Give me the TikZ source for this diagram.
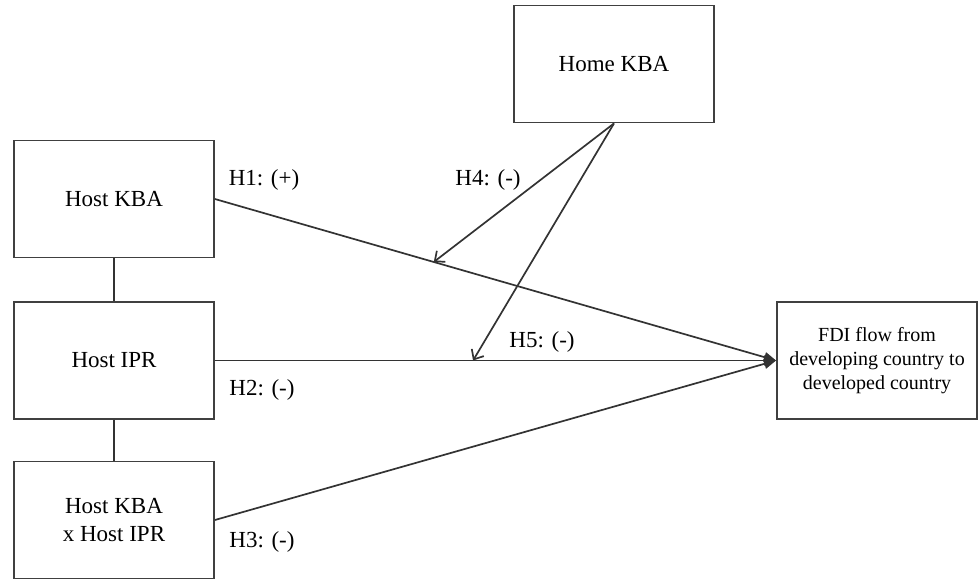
\documentclass[tikz,border=0pt]{standalone}
\usepackage{fontspec}
\setmainfont{Liberation Serif}
\usetikzlibrary{arrows.meta,calc}
\begin{document}
\begin{tikzpicture}[x=1pt,y=-1pt]
\tikzstyle{every node}+=[inner sep=0pt, font=\fontsize{23}{28}\selectfont]
\tikzstyle{box}=[draw=black!75, line width=1.8pt, minimum width=200pt, minimum height=117pt, align=center]
\tikzstyle{link}=[draw=black!80, line width=1.7pt]
\useasboundingbox (0,0) rectangle (979,581);
% boxes
\node [box] (home) at (614,64) {Home KBA};
\node [box] (hostkba) at (114,199) {Host KBA};
\node [box] (hostipr) at (114,360.5) {Host IPR};
\node [box] (inter) at (114,520) {Host KBA\\x Host IPR};
\node [box, minimum width=200pt, font=\fontsize{20}{24}\selectfont] (fdi) at (877,360.5) {FDI flow from\\developing country to\\developed country};
%\draw (hostkba) -- (hostipr);
\draw [link] (hostkba.south) -- (hostipr.north);
\draw [link] (hostipr.south) -- (inter.north);
% main effects
\draw [link, -{Triangle[length=12pt,width=10pt]}] (hostkba.east) -- (fdi.west);
\draw [link, -{Triangle[length=12pt,width=10pt]}] (hostipr.east) -- (fdi.west);
\draw [link, -{Triangle[length=12pt,width=10pt]}] (inter.east) -- (fdi.west);
% moderation
\coordinate (hitone) at ($(hostkba.east)!0.39!(fdi.west)$);
\coordinate (hittwo) at ($(hostipr.east)!0.46!(fdi.west)$);
\draw [link, -{Straight Barb[length=8pt,width=14pt]}] (home.south) -- (hitone);
\draw [link, -{Straight Barb[length=8pt,width=14pt]}] (home.south) -- (hittwo);
% labels
\node (hone) at (264,180) {H1: (+)};
\node (htwo) at (262,390) {H2: (-)};
\node (hthree) at (262,542) {H3: (-)};
\node (hfour) at (488,180) {H4: (-)};
\node (hfive) at (542,342) {H5: (-)};
\end{tikzpicture}
\end{document}
